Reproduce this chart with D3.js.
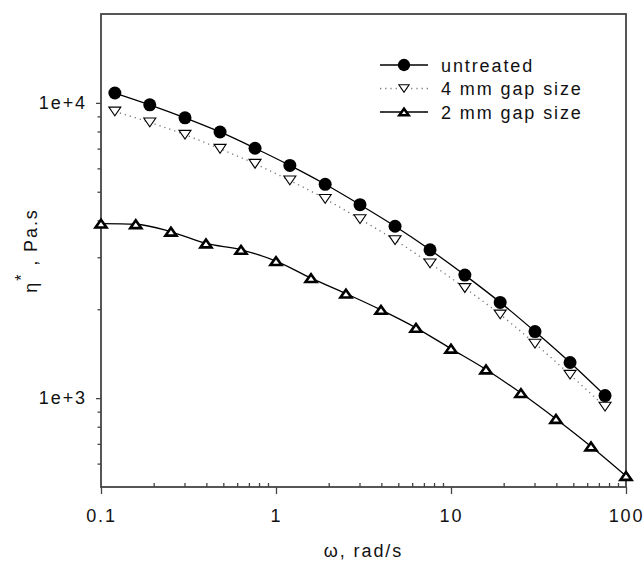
<!DOCTYPE html>
<html>
<head>
<meta charset="utf-8">
<script src="https://cdn.jsdelivr.net/npm/d3@7"></script>
<style>
  body { margin: 0; background: #fff; }
  text { font-family: "Liberation Sans", Arial, sans-serif; fill: #111; }
</style>
</head>
<body>
<svg id="drawing_region"></svg>
<script>
// frequency (rad/s) for each series
var untreatedX = [0.12, 0.19, 0.302, 0.479, 0.759, 1.2, 1.91, 3.02, 4.79, 7.59, 12.0, 19.1, 30.2, 47.9, 75.9];
var untreatedY = [10800, 9850, 8900, 7970, 7020, 6140, 5300, 4520, 3820, 3180, 2610, 2110, 1680, 1320, 1020];

var gap4X = [0.12, 0.19, 0.302, 0.479, 0.759, 1.2, 1.91, 3.02, 4.79, 7.59, 12.0, 19.1, 30.2, 47.9, 75.9];
var gap4Y = [9350, 8590, 7800, 6990, 6220, 5460, 4730, 4040, 3430, 2860, 2360, 1920, 1530, 1200, 936];

var gap2X = [0.1, 0.158, 0.251, 0.398, 0.631, 1, 1.585, 2.51, 3.98, 6.31, 10, 15.85, 25.1, 39.8, 63.1, 100];
var gap2Y = [3900, 3880, 3660, 3340, 3180, 2910, 2550, 2260, 1990, 1730, 1470, 1250, 1040, 850, 686, 545];

var seriesNames = ['untreated', '4 mm gap size', '2 mm gap size'];

var xTickValues = [0.1, 1, 10, 100];
var xTickLabels = ['0.1', '1', '10', '100'];
var yTickValues = [1000, 10000];
var yTickLabels = ['1e+3', '1e+4'];
var xMinorTicks = [0.2, 0.3, 0.4, 0.5, 0.6, 0.7, 0.8, 0.9, 2, 3, 4, 5, 6, 7, 8, 9, 20, 30, 40, 50, 60, 70, 80, 90];
var yMinorTicks = [600, 700, 800, 900, 2000, 3000, 4000, 5000, 6000, 7000, 8000, 9000];

var width = 644;
var height = 561;
var margin = {top:14, right:18, bottom:74, left:101};

var fontSize = '18px';
var spacing = '1.9px';

var svg = d3.select('#drawing_region')
    .attr('width', width)
    .attr('height', height);

var chart = svg.append('g')
    .attr('transform', `translate(${margin.left}, ${margin.top})`);

const inner_width = width - margin.left - margin.right;
const inner_height = height - margin.top - margin.bottom;

const xscale = d3.scaleLog()
      .domain([0.1, 100])
      .range([0, inner_width]);

const yscale = d3.scaleLog()
      .domain([500, 20000])
      .range([inner_height, 0]);

// axes (major ticks outward, x minor ticks inward)
const xaxis = d3.axisBottom(xscale)
      .tickValues(xTickValues)
      .tickFormat((d, i) => xTickLabels[i])
      .tickSize(7)
      .tickPadding(15);

const xminor = d3.axisTop(xscale)
      .tickValues(xMinorTicks)
      .tickFormat('')
      .tickSize(4);

const yaxis = d3.axisLeft(yscale)
      .tickValues(yTickValues)
      .tickFormat((d, i) => yTickLabels[i])
      .tickSize(5)
      .tickPadding(9);

const yminor = d3.axisLeft(yscale)
      .tickValues(yMinorTicks)
      .tickFormat('')
      .tickSize(3.5);

const axisColor = '#444';

function styleAxis(g) {
    g.select('.domain').remove();
    g.selectAll('line').attr('stroke', axisColor).attr('stroke-width', 1.3);
    g.selectAll('text')
        .style('font-size', fontSize)
        .style('letter-spacing', spacing)
        .attr('fill', '#111');
}

chart.append('g').attr('transform', `translate(0, ${inner_height})`).call(xaxis).call(styleAxis);
chart.append('g').attr('transform', `translate(0, ${inner_height})`).call(xminor).call(styleAxis);
chart.append('g').call(yaxis).call(styleAxis);
chart.append('g').call(yminor).call(styleAxis);

// frame
chart.append('rect')
    .attr('x', 0)
    .attr('y', 0)
    .attr('width', inner_width)
    .attr('height', inner_height)
    .attr('fill', 'none')
    .attr('stroke', axisColor)
    .attr('stroke-width', 1.8);

// series
function zipData(xs, ys) {
    return xs.map((x, i) => ({x:x, y:ys[i]}));
}

var series = [
    {name:seriesNames[0], data:zipData(untreatedX, untreatedY), dash:null, lineColor:'#000', marker:'circle'},
    {name:seriesNames[1], data:zipData(gap4X, gap4Y), dash:'1.2,4', lineColor:'#777', marker:'down'},
    {name:seriesNames[2], data:zipData(gap2X, gap2Y), dash:null, lineColor:'#000', marker:'up'}
];

const line = d3.line()
      .x(d => xscale(d.x))
      .y(d => yscale(d.y))
      .curve(d3.curveMonotoneX);

series.forEach(s => {
    chart.append('path')
        .datum(s.data)
        .attr('d', line)
        .attr('fill', 'none')
        .attr('stroke', s.lineColor)
        .attr('stroke-width', s.dash ? 1.4 : 1.3)
        .attr('stroke-dasharray', s.dash);
});

function drawMarker(g, type, scale) {
    scale = scale || 1;
    if (type === 'circle') {
        g.append('circle').attr('r', 6.5 * scale).attr('fill', '#000');
    } else if (type === 'down') {
        var w = 6 * scale, h = 8.8 * scale;
        g.append('path')
            .attr('d', `M${-w},${-h/2}L${w},${-h/2}L0,${h/2}Z`)
            .attr('fill', '#fff').attr('stroke', '#000').attr('stroke-width', 1.1);
    } else {
        var w2 = 5.5 * scale, h2 = 7.8 * scale;
        g.append('path')
            .attr('d', `M0,${-h2/2}L${w2},${h2/2}L${-w2},${h2/2}Z`)
            .attr('fill', '#fff').attr('stroke', '#000').attr('stroke-width', 2.6)
            .attr('stroke-linejoin', 'miter');
    }
}

series.forEach(s => {
    chart.append('g').selectAll('g').data(s.data).enter()
        .append('g')
        .attr('transform', d => `translate(${xscale(d.x)}, ${yscale(d.y)})`)
        .each(function() { drawMarker(d3.select(this), s.marker); });
});

// legend
var legend = svg.append('g').attr('transform', 'translate(380, 65)');
series.forEach((s, i) => {
    var row = legend.append('g').attr('transform', `translate(0, ${i * 23.5})`);
    row.append('line')
        .attr('x1', 0).attr('x2', 48)
        .attr('y1', 0).attr('y2', 0)
        .attr('stroke', s.lineColor)
        .attr('stroke-width', s.dash ? 1.4 : 1.3)
        .attr('stroke-dasharray', s.dash);
    var m = row.append('g').attr('transform', 'translate(24, 0)');
    drawMarker(m, s.marker, s.marker === 'circle' ? 0.95 : 0.85);
    row.append('text')
        .attr('x', 61)
        .attr('y', 6.5)
        .style('font-size', fontSize)
        .style('letter-spacing', spacing)
        .text(s.name);
});

// axis titles
svg.append('text')
    .attr('x', margin.left + inner_width / 2)
    .attr('y', 557)
    .attr('text-anchor', 'middle')
    .style('font-size', fontSize)
    .style('letter-spacing', spacing)
    .text('ω, rad/s');

var ytitle = svg.append('text')
    .attr('transform', `translate(37, ${margin.top + inner_height / 2}) rotate(-90)`)
    .attr('text-anchor', 'middle')
    .style('font-size', fontSize)
    .style('letter-spacing', spacing);
ytitle.append('tspan').text('η');
ytitle.append('tspan').attr('dy', -10).style('font-size', '16px').text('*');
ytitle.append('tspan').attr('dy', 10).text(' , Pa.s');
</script>
</body>
</html>
